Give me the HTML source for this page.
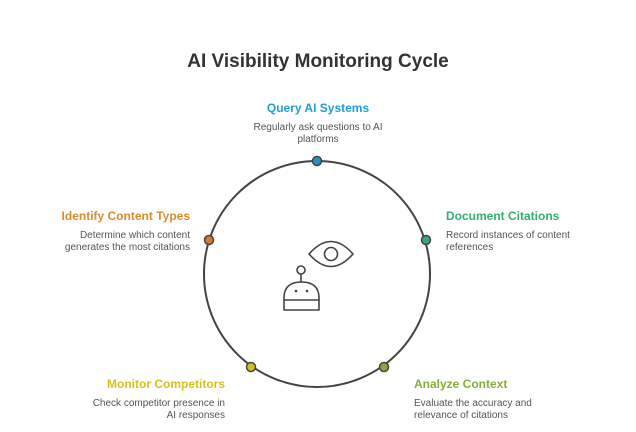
<!DOCTYPE html>
<html><head><style>
body{margin:0;width:636px;height:427px;background:#fff;overflow:hidden;font-family:"Liberation Sans",Arial,sans-serif}
</style></head><body>
<svg width="636" height="427" xmlns="http://www.w3.org/2000/svg" font-family="Liberation Sans, Arial, sans-serif">
<text x="318" y="67" text-anchor="middle" font-size="19" font-weight="bold" fill="#333">AI Visibility Monitoring Cycle</text>
<circle cx="317" cy="274" r="113" fill="none" stroke="#444" stroke-width="2"/>
<g stroke="#444" stroke-width="1.5">
<circle cx="317" cy="161" r="4.5" fill="#2a8fc4"/>
<circle cx="426" cy="240" r="4.5" fill="#3aa876"/>
<circle cx="209" cy="240" r="4.5" fill="#d9782a"/>
<circle cx="251" cy="367" r="4.5" fill="#d4c21a"/>
<circle cx="384" cy="367" r="4.5" fill="#86ad37"/>
</g>
<g fill="none" stroke="#444" stroke-width="1.6" stroke-linejoin="round">
<path d="M309 254 Q331 229 353 254 Q331 279 309 254 Z"/>
<circle cx="331" cy="254" r="6.5"/>
<circle cx="301" cy="270" r="4"/>
<path d="M301 274 V282"/>
<path d="M284 310 V298 Q284 282 301.5 282 Q319 282 319 298 V310 Z"/>
<path d="M284 300 H319"/>
</g>
<circle cx="296" cy="291" r="1.3" fill="#444"/><circle cx="307" cy="291" r="1.3" fill="#444"/>
<g font-size="12" font-weight="bold">
<text x="318" y="112" text-anchor="middle" fill="#1e9fd6">Query AI Systems</text>
<text x="446" y="220" fill="#2fb072">Document Citations</text>
<text x="190" y="220" text-anchor="end" fill="#e08a2e">Identify Content Types</text>
<text x="225" y="388" text-anchor="end" fill="#d4c21a">Monitor Competitors</text>
<text x="414" y="388" fill="#86ad37">Analyze Context</text>
</g>
<g font-size="10" fill="#555">
<text x="318" y="130" text-anchor="middle">Regularly ask questions to AI</text>
<text x="318" y="142" text-anchor="middle">platforms</text>
<text x="446" y="238">Record instances of content</text>
<text x="446" y="250">references</text>
<text x="190" y="238" text-anchor="end">Determine which content</text>
<text x="190" y="250" text-anchor="end">generates the most citations</text>
<text x="225" y="406" text-anchor="end">Check competitor presence in</text>
<text x="225" y="418" text-anchor="end">AI responses</text>
<text x="414" y="406">Evaluate the accuracy and</text>
<text x="414" y="418">relevance of citations</text>
</g>
</svg>
</body></html>
